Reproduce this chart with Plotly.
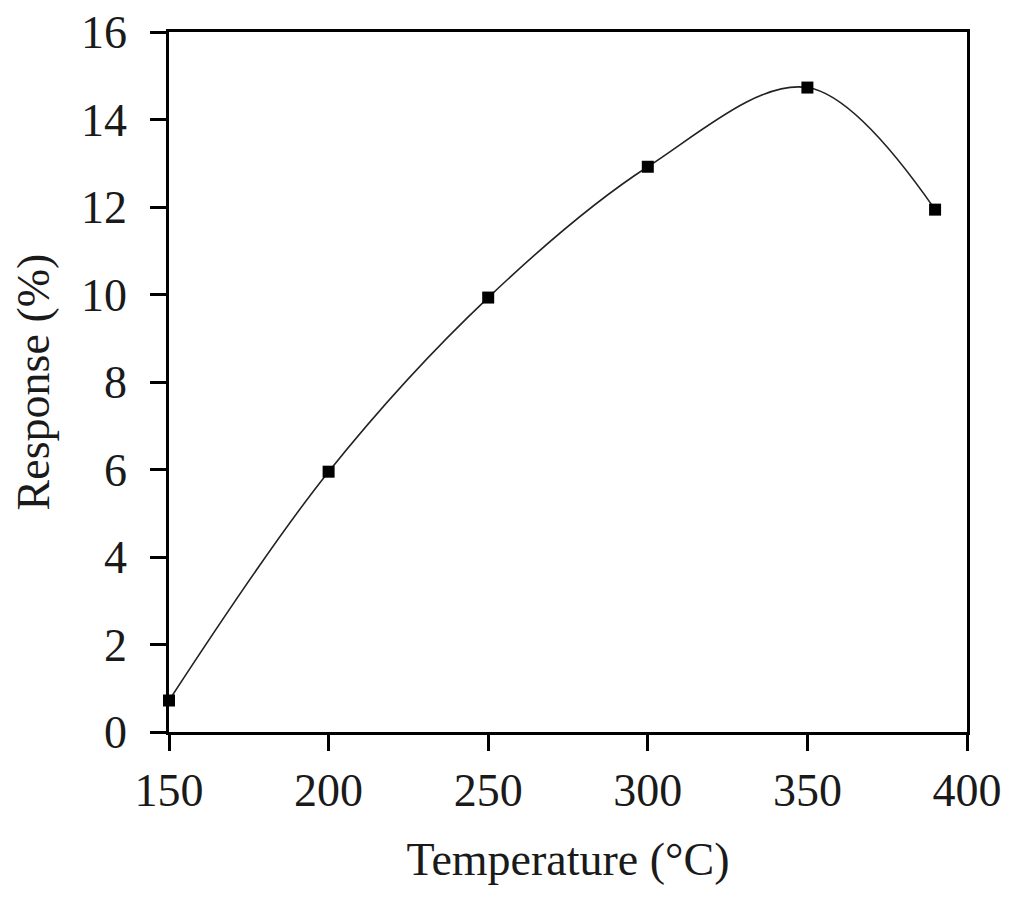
import plotly.graph_objects as go

temperature = [150, 200, 250, 300, 350, 390]
response = [0.72, 5.95, 9.93, 12.92, 14.73, 11.94]

x_ticks = [150, 200, 250, 300, 350, 400]
y_ticks = [0, 2, 4, 6, 8, 10, 12, 14, 16]

FONT = "Liberation Serif"
TXT = "#1a1a1a"

fig = go.Figure()
fig.add_trace(go.Scatter(
    x=temperature, y=response,
    mode="lines+markers",
    line=dict(shape="spline", smoothing=1.0, color="#222222", width=1.6),
    marker=dict(symbol="square", size=12, color="black"),
    cliponaxis=False,
    showlegend=False,
))

axis_common = dict(
    showgrid=False, zeroline=False, automargin=False,
    showline=True, linecolor="black", linewidth=2.5, mirror=True,
    ticks="outside", ticklen=16, tickwidth=2.5, tickcolor="black",
    ticklabeloverflow="allow",
    tickfont=dict(family=FONT, size=46, color=TXT),
)

fig.update_xaxes(
    range=[150, 400], tickvals=x_ticks, ticktext=[str(v) for v in x_ticks],
    title=dict(text="Temperature (°C)", font=dict(family=FONT, size=46, color=TXT), standoff=28),
    **axis_common,
)
fig.update_yaxes(
    range=[0, 16], tickvals=y_ticks, ticktext=[str(v) for v in y_ticks],
    ticklabelstandoff=14,
    title=dict(text="Response (%)", font=dict(family=FONT, size=46, color=TXT), standoff=30),
    **axis_common,
)

fig.update_layout(
    width=1008, height=881,
    margin=dict(l=161, r=49, t=24, b=157),
    paper_bgcolor="white", plot_bgcolor="white",
)

fig.write_html("out.html")
